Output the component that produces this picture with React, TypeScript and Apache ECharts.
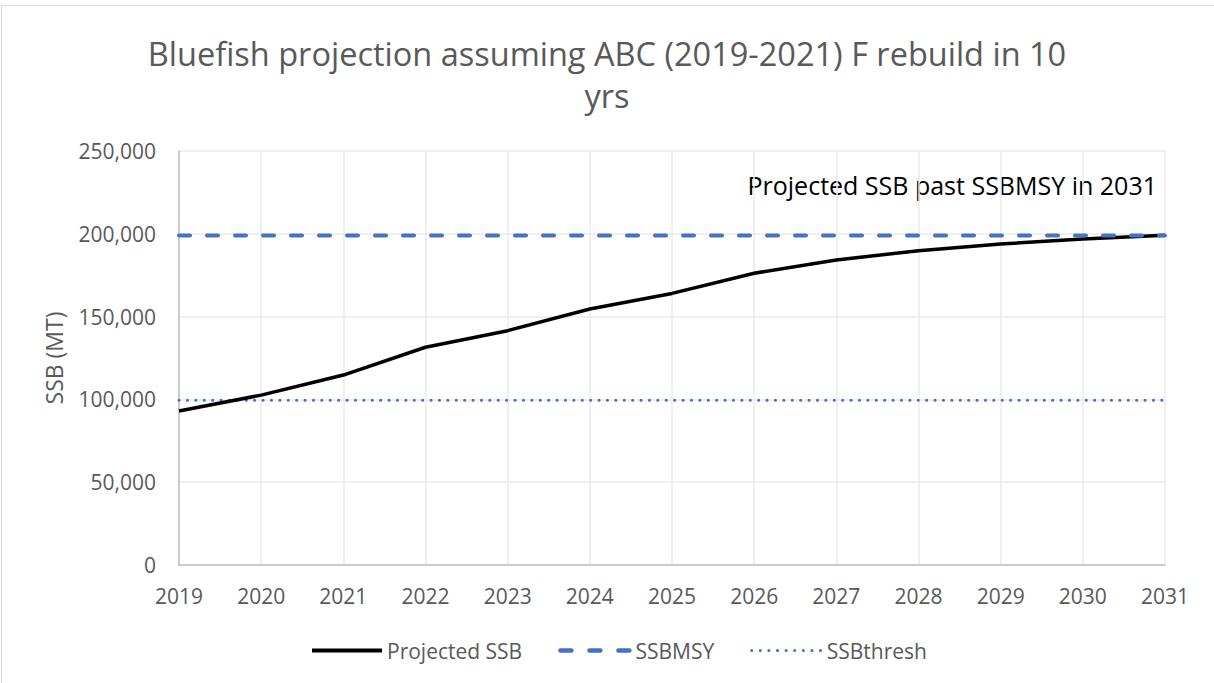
import React, { useEffect, useRef } from "react";
import * as echarts from "echarts";

const years = ["2019", "2020", "2021", "2022", "2023", "2024", "2025", "2026", "2027", "2028", "2029", "2030", "2031"];
const projectedSSB = [93000, 102600, 114700, 131500, 141500, 154600, 164000, 176200, 184200, 189800, 193800, 196900, 199100];
const ssbMsy = [199000, 199000, 199000, 199000, 199000, 199000, 199000, 199000, 199000, 199000, 199000, 199000, 199000];
const ssbThresh = [99500, 99500, 99500, 99500, 99500, 99500, 99500, 99500, 99500, 99500, 99500, 99500, 99500];
const yMin = 0;
const yMax = 250000;
const yInterval = 50000;

const titleText = "Bluefish projection assuming ABC (2019-2021) F rebuild in 10\nyrs";
const annotation = "Projected SSB past SSBMSY in 2031";
const FONT = "'Open Sans', sans-serif";
const BLUE = "#4472c4";

export default function App() {
  const ref = useRef<HTMLDivElement>(null);
  useEffect(() => {
    document.body.style.margin = "0";
    const chart = echarts.init(ref.current!, null, { renderer: "svg" });
    chart.setOption({
      animation: false,
      backgroundColor: "#ffffff",
      textStyle: { fontFamily: FONT },
      title: {
        text: titleText,
        left: "center",
        top: 27,
        textStyle: { fontFamily: FONT, fontSize: 32.5, fontWeight: "normal", color: "#595959", lineHeight: 42 },
      },
      legend: {
        left: 305,
        top: 635,
        itemWidth: 70,
        itemHeight: 4,
        itemGap: 36,
        itemStyle: { opacity: 0 },
        textStyle: { fontFamily: FONT, fontSize: 21, color: "#595959" },
        data: [
          { name: "Projected SSB", lineStyle: { width: 4, color: "#000000" } },
          { name: "SSBMSY", lineStyle: { width: 4.5, color: BLUE, type: [11, 18], cap: "round" } },
          { name: "SSBthresh", lineStyle: { width: 3, color: BLUE, type: [0.1, 8.5], cap: "round" } },
        ],
      },
      grid: { left: 179, right: 49, top: 151, bottom: 118, containLabel: false },
      xAxis: {
        type: "category",
        data: years,
        boundaryGap: false,
        axisLine: { lineStyle: { color: "#bfbfbf", width: 1.5 } },
        axisTick: { show: false },
        axisLabel: { fontFamily: FONT, fontSize: 21, color: "#595959", margin: 20 },
        splitLine: { show: true, lineStyle: { color: "#ebebeb", width: 1.5 } },
      },
      yAxis: {
        type: "value",
        min: yMin,
        max: yMax,
        interval: yInterval,
        name: "SSB (MT)",
        nameLocation: "middle",
        nameGap: 114,
        nameRotate: 90,
        nameTextStyle: { fontFamily: FONT, fontSize: 23, color: "#595959" },
        axisLine: { show: true, lineStyle: { color: "#bfbfbf", width: 1.5 } },
        axisTick: { show: false },
        axisLabel: {
          fontFamily: FONT,
          fontSize: 21,
          color: "#595959",
          margin: 23,
          formatter: (v: number) => v.toLocaleString("en-US"),
        },
        splitLine: { show: true, lineStyle: { color: "#ebebeb", width: 1.5 } },
      },
      series: [
        {
          name: "Projected SSB",
          type: "line",
          data: projectedSSB,
          symbol: "none",
          lineStyle: { color: "#000000", width: 3.5 },
          itemStyle: { color: "#000000" },
          z: 3,
        },
        {
          name: "SSBMSY",
          type: "line",
          data: ssbMsy,
          symbol: "none",
          lineStyle: { color: BLUE, width: 4, type: [11, 17], cap: "round" },
          itemStyle: { color: BLUE },
          z: 4,
        },
        {
          name: "SSBthresh",
          type: "line",
          data: ssbThresh,
          symbol: "none",
          lineStyle: { color: BLUE, width: 3, type: [0.1, 8.3], cap: "round" },
          itemStyle: { color: BLUE },
          z: 2,
        },
      ],
      graphic: [
        {
          type: "rect",
          silent: true,
          shape: { x: 1.5, y: 5.5, width: 1300, height: 800 },
          style: { fill: "none", stroke: "#d9d9d9", lineWidth: 1 },
          z: -10,
        },
        {
          type: "text",
          x: 1157,
          y: 185,
          style: {
            text: annotation,
            fontFamily: FONT,
            fontSize: 25,
            fill: "#000000",
            textAlign: "right",
            textVerticalAlign: "middle",
          },
        },
      ],
    });
    return () => chart.dispose();
  }, []);
  return <div ref={ref} style={{ width: 1214, height: 683 }} />;
}
